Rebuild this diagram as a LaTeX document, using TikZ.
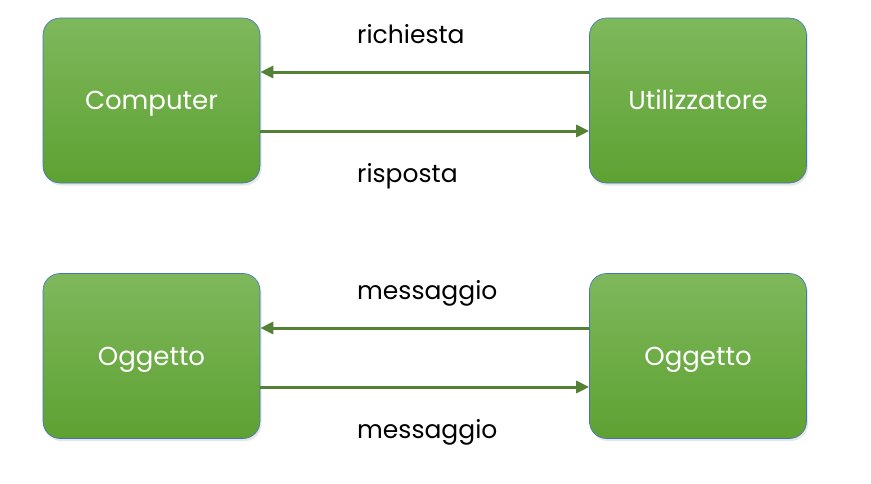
\documentclass[tikz,border=0pt]{standalone}
\usepackage{fontspec}
\setmainfont{Poppins}
\usepackage{xcolor}
\usetikzlibrary{arrows, arrows.meta}
\usetikzlibrary{positioning}
\usetikzlibrary{calc}
\usetikzlibrary{shadows}
\definecolor{boxtop}{RGB}{126,184,92}
\definecolor{boxbot}{RGB}{94,161,50}
\definecolor{boxline}{RGB}{68,114,196}
\definecolor{arrowgreen}{RGB}{84,130,53}
\begin{document}
\begin{tikzpicture}[x=1pt,y=-1pt,
	box/.style={draw=boxline, line width=0.6pt, rounded corners=17pt, top color=boxtop, bottom color=boxbot,
		minimum width=217pt, minimum height=165pt, text=white, font=\fontsize{26}{30}\selectfont,
		text height=18pt, text depth=0pt,
		drop shadow={opacity=0.2, shadow xshift=1.5pt, shadow yshift=-2.5pt}},
	link/.style={draw=arrowgreen, line width=3pt, -{Triangle[length=13pt, width=12pt]}},
	lab/.style={anchor=base west, inner sep=0pt, font=\fontsize{25}{28}\selectfont}]
				\useasboundingbox (0,0) rectangle (871,483);
				% boxes
				\node[box] (comp) at (151.5,100.5) {Computer};
				\node[box] (user) at (698,100.5) {Utilizzatore};
				\node[box] (obja) at (151.5,356) {Oggetto};
				\node[box] (objb) at (698,356) {Oggetto};
				
				% top arrows
				\draw[link] ([yshift=28.5pt]user.west) -- ([yshift=28.5pt]comp.east);
				\draw[link] ([yshift=-30.5pt]comp.east) -- ([yshift=-30.5pt]user.west);
				\node[lab] (req) at (357,43) {richiesta};
				\node[lab] (resp) at (357,182) {risposta};
				
				% bottom arrows
				\draw[link] ([yshift=28pt]objb.west) -- ([yshift=28pt]obja.east);
				\draw[link] ([yshift=-31pt]obja.east) -- ([yshift=-31pt]objb.west);
				\node[lab] (msga) at (357,299) {messaggio};
				\node[lab] (msgb) at (357,438) {messaggio};
			\end{tikzpicture}
\end{document}
